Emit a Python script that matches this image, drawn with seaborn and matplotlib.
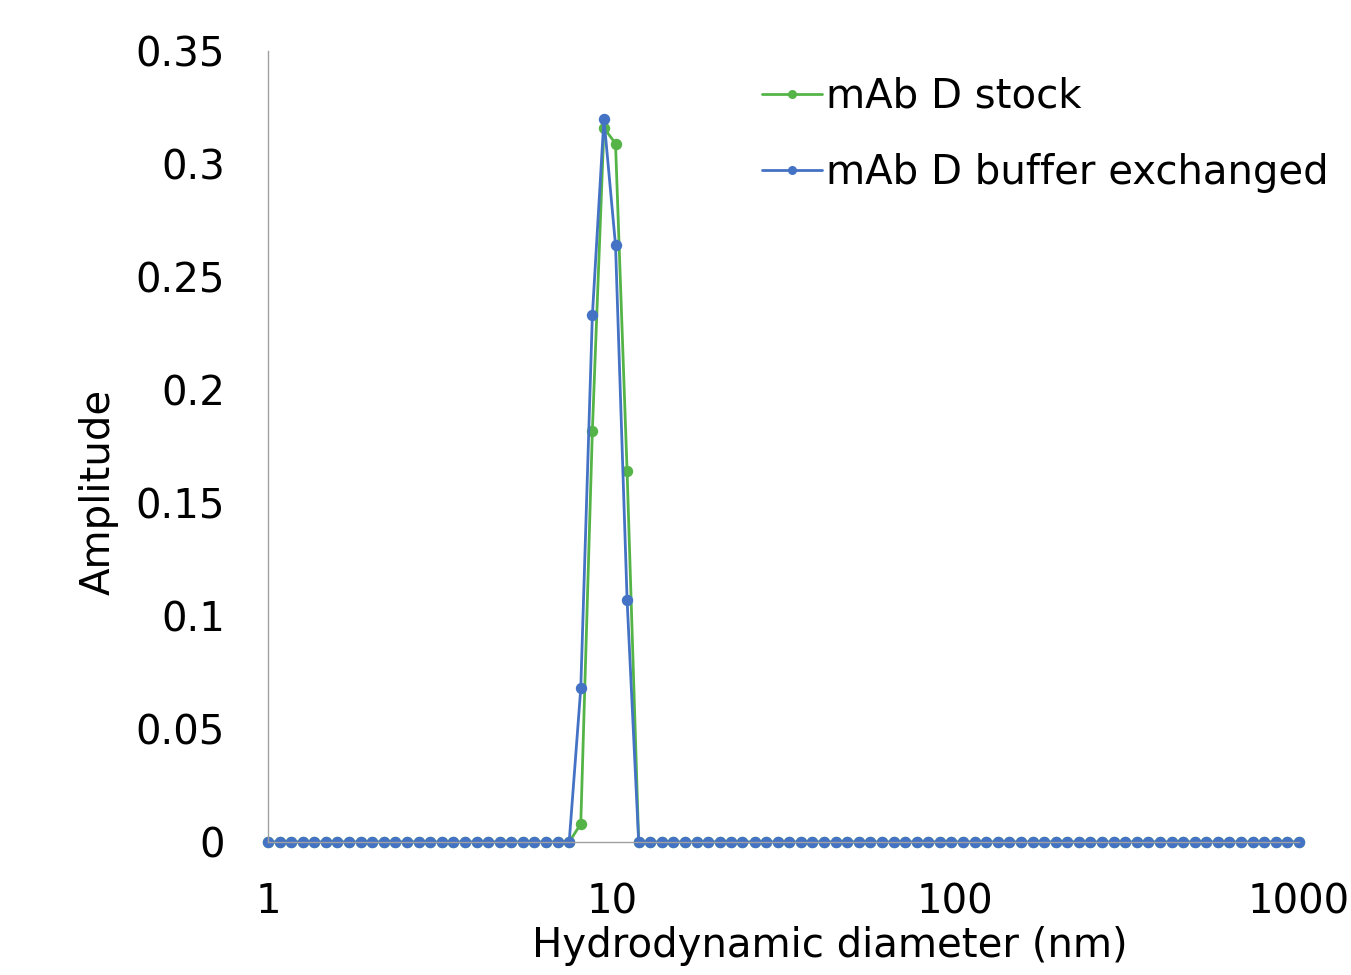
import matplotlib
matplotlib.use("Agg")
import matplotlib.pyplot as plt
from matplotlib.lines import Line2D
import seaborn as sns
import pandas as pd

# Hydrodynamic diameter bins (nm), log-spaced instrument grid
diameter_nm = [
    1.000, 1.081, 1.168, 1.262, 1.364, 1.474, 1.593, 1.722, 1.861, 2.011,
    2.173, 2.349, 2.538, 2.743, 2.964, 3.204, 3.462, 3.741, 4.043, 4.370,
    4.722, 5.104, 5.515, 5.961, 6.442, 6.962, 7.523, 8.130, 8.787, 9.496,
    10.262, 11.090, 11.985, 12.953, 13.998, 15.128, 16.349, 17.668, 19.094, 20.635,
    22.300, 24.000, 26.046, 28.148, 30.419, 32.874, 35.527, 38.395, 41.493, 44.843,
    48.461, 52.372, 56.599, 61.168, 66.103, 71.438, 77.204, 83.435, 90.170, 97.445,
    105.31, 113.81, 123.00, 132.92, 143.65, 155.24, 167.77, 181.31, 195.94, 211.76,
    228.85, 247.32, 267.28, 288.85, 312.16, 337.36, 364.59, 394.01, 425.80, 460.17,
    497.31, 537.45, 580.82, 627.70, 678.36, 733.11, 792.28, 856.21, 925.31, 1000.0,
]

# Amplitudes (zero outside the peak)
stock_amp = [0.0] * 27 + [0.008, 0.182, 0.316, 0.309, 0.164] + [0.0] * 58
buffer_amp = [0.0] * 27 + [0.068, 0.233, 0.320, 0.264, 0.107] + [0.0] * 58

series_names = ["mAb D stock", "mAb D buffer exchanged"]
series_colors = ["#55B447", "#4472C4"]

df = pd.concat([
    pd.DataFrame({"d": diameter_nm, "amp": stock_amp, "series": series_names[0]}),
    pd.DataFrame({"d": diameter_nm, "amp": buffer_amp, "series": series_names[1]}),
], ignore_index=True)

sns.set_style("white")
plt.rcParams["font.family"] = ["DejaVu Sans"]
plt.rcParams["text.color"] = "black"
plt.rcParams["axes.labelcolor"] = "black"

fig = plt.figure(figsize=(13.51, 9.75), dpi=100)
ax = fig.add_axes([268 / 1351, 1 - 842 / 975, (1299 - 268) / 1351, (842 - 51) / 975])

palette = dict(zip(series_names, series_colors))
sns.lineplot(data=df, x="d", y="amp", hue="series", hue_order=series_names,
             palette=palette, marker="o", linewidth=2.0, legend=False, ax=ax,
             sort=False)
for ln in ax.get_lines():
    ln.set_markersize(8.2)
    ln.set_markeredgewidth(0)
    ln.set_markeredgecolor(ln.get_color())
    ln.set_clip_on(False)

ax.set_xscale("log")
ax.set_xlim(1, 1000)
ax.set_ylim(0, 0.35)
ax.set_xticks([1, 10, 100, 1000])
ax.set_xticklabels(["1", "10", "100", "1000"])
ax.minorticks_off()
ax.set_yticks([0, 0.05, 0.1, 0.15, 0.2, 0.25, 0.3, 0.35])
ax.set_yticklabels(["0", "0.05", "0.1", "0.15", "0.2", "0.25", "0.3", "0.35"])

spine_color = "#A0A0A0"
for s in ["top", "right"]:
    ax.spines[s].set_visible(False)
for s in ["left", "bottom"]:
    ax.spines[s].set_color(spine_color)
    ax.spines[s].set_linewidth(1.0)

ax.tick_params(axis="both", which="major", direction="out", length=9,
               width=1.0, color=spine_color, labelsize=29, labelcolor="black")
ax.tick_params(axis="x", pad=20)
ax.tick_params(axis="y", pad=22)

ax.set_xlabel("Hydrodynamic diameter (nm)", fontsize=29, color="black")
ax.xaxis.set_label_coords((830 - 268) / 1031, (842 - 926) / 791)
ax.set_ylabel("Amplitude", fontsize=29, color="black")
ax.yaxis.set_label_coords(-0.145, 0.4425)

handles = [Line2D([0], [0], color=c, lw=2.0, marker="o", markersize=6.5,
                  markeredgewidth=0) for c in series_colors]
leg = ax.legend(handles, series_names, loc="upper left",
                bbox_to_anchor=(762 / 1351, 1 - 77 / 975), bbox_transform=fig.transFigure,
                frameon=False, fontsize=29, handlelength=1.5, handletextpad=0.1,
                labelspacing=0.9, borderaxespad=0, borderpad=0)
for t in leg.get_texts():
    t.set_color("black")

fig.savefig("out.png", dpi=100)
